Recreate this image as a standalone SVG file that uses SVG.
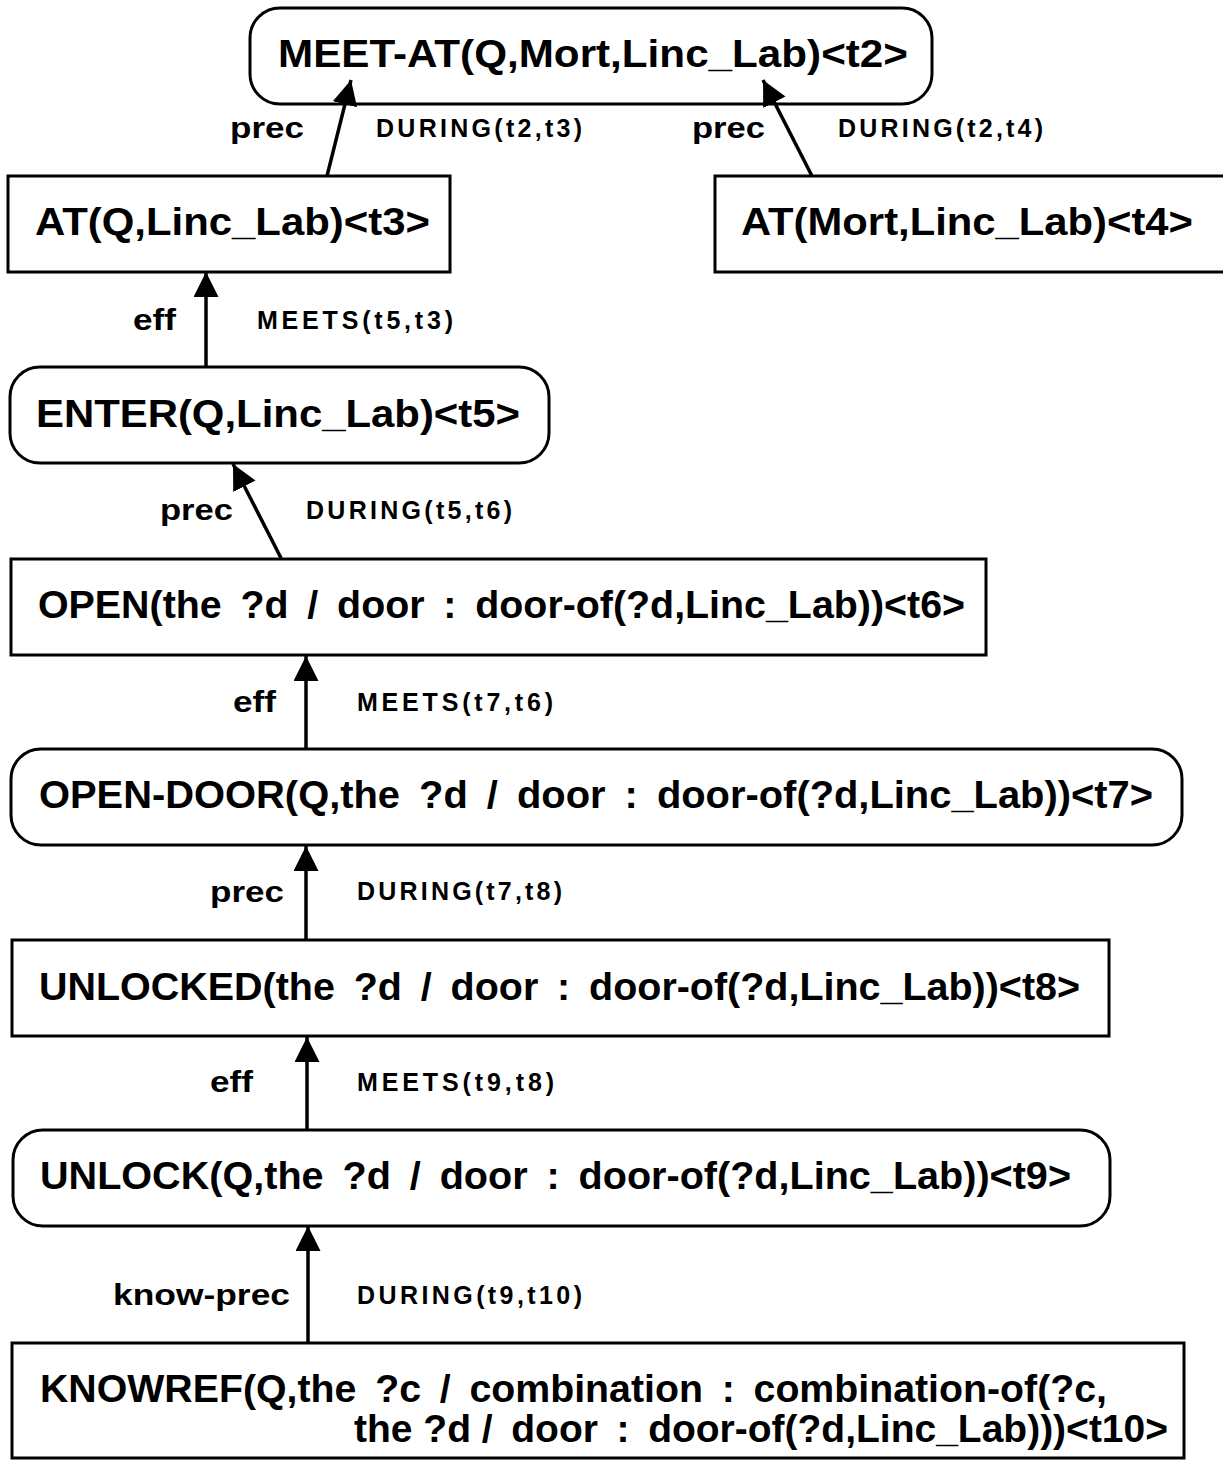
<svg xmlns="http://www.w3.org/2000/svg" width="1223" height="1461" viewBox="0 0 1223 1461">
  <defs>
    <style>
      .box { fill: #fff; stroke: #000; stroke-width: 3; }
      .node { font-family: "Liberation Sans", Arial, Helvetica, sans-serif; font-weight: bold; font-size: 39px; fill: #000; white-space: pre; }
      .rel { font-family: "Liberation Sans", Arial, Helvetica, sans-serif; font-weight: bold; font-size: 30px; fill: #000; }
      .temp { font-family: "Liberation Sans", Arial, Helvetica, sans-serif; font-weight: bold; font-size: 25px; fill: #000; }
      .edge { stroke: #000; stroke-width: 3.5; fill: none; }
    </style>
    <marker id="head" markerUnits="userSpaceOnUse" markerWidth="27" markerHeight="26" refX="25" refY="12.5" orient="auto">
      <path d="M0,0 L25,12.5 L0,25 Z" fill="#000"/>
    </marker>
  </defs>
  <rect width="1223" height="1461" fill="#fff"/>

  <!-- plan nodes: rounded = actions, square = states -->
  <g id="meet-at">
    <rect class="box" x="250" y="8" width="682" height="96" rx="30"/>
    <text class="node" x="278" y="67" textLength="630" lengthAdjust="spacingAndGlyphs">MEET-AT(Q,Mort,Linc_Lab)&lt;t2&gt;</text>
  </g>
  <g id="at-q">
    <rect class="box" x="8" y="176" width="442" height="96"/>
    <text class="node" x="35" y="235" textLength="395" lengthAdjust="spacingAndGlyphs">AT(Q,Linc_Lab)&lt;t3&gt;</text>
  </g>
  <g id="at-mort">
    <rect class="box" x="715" y="176" width="520" height="96"/>
    <text class="node" x="741" y="235" textLength="452" lengthAdjust="spacingAndGlyphs">AT(Mort,Linc_Lab)&lt;t4&gt;</text>
  </g>
  <g id="enter">
    <rect class="box" x="10" y="367" width="539" height="96" rx="30"/>
    <text class="node" x="36" y="427" textLength="484" lengthAdjust="spacingAndGlyphs">ENTER(Q,Linc_Lab)&lt;t5&gt;</text>
  </g>
  <g id="open">
    <rect class="box" x="11" y="559" width="975" height="96"/>
    <text class="node" x="38" y="618" textLength="927" lengthAdjust="spacingAndGlyphs">OPEN(the &#8201;?d &#8201;/ &#8201;door &#8201;: &#8201;door-of(?d,Linc_Lab))&lt;t6&gt;</text>
  </g>
  <g id="open-door">
    <rect class="box" x="11" y="749" width="1171" height="96" rx="30"/>
    <text class="node" x="39" y="808" textLength="1114" lengthAdjust="spacingAndGlyphs">OPEN-DOOR(Q,the &#8201;?d &#8201;/ &#8201;door &#8201;: &#8201;door-of(?d,Linc_Lab))&lt;t7&gt;</text>
  </g>
  <g id="unlocked">
    <rect class="box" x="12" y="940" width="1097" height="96"/>
    <text class="node" x="39" y="1000" textLength="1041" lengthAdjust="spacingAndGlyphs">UNLOCKED(the &#8201;?d &#8201;/ &#8201;door &#8201;: &#8201;door-of(?d,Linc_Lab))&lt;t8&gt;</text>
  </g>
  <g id="unlock">
    <rect class="box" x="13" y="1130" width="1097" height="96" rx="30"/>
    <text class="node" x="40" y="1189" textLength="1031" lengthAdjust="spacingAndGlyphs">UNLOCK(Q,the &#8201;?d &#8201;/ &#8201;door &#8201;: &#8201;door-of(?d,Linc_Lab))&lt;t9&gt;</text>
  </g>
  <g id="knowref">
    <rect class="box" x="12" y="1343" width="1172" height="115"/>
    <text class="node" x="40" y="1402" textLength="1067" lengthAdjust="spacingAndGlyphs">KNOWREF(Q,the &#8201;?c &#8201;/ &#8201;combination &#8201;: &#8201;combination-of(?c,</text>
    <text class="node" x="354" y="1442" textLength="814" lengthAdjust="spacingAndGlyphs">the ?d / &#8201;door &#8201;: &#8201;door-of(?d,Linc_Lab)))&lt;t10&gt;</text>
  </g>

  <!-- links between nodes, with their kind and temporal constraint -->
  <g id="connectors">
    <line class="edge" x1="327" y1="176" x2="351" y2="80" marker-end="url(#head)"/>
    <line class="edge" x1="812" y1="176" x2="763" y2="80" marker-end="url(#head)"/>
    <line class="edge" x1="206" y1="367" x2="206" y2="272" marker-end="url(#head)"/>
    <line class="edge" x1="281" y1="558" x2="233" y2="464" marker-end="url(#head)"/>
    <line class="edge" x1="306" y1="749" x2="306" y2="656" marker-end="url(#head)"/>
    <line class="edge" x1="306" y1="940" x2="306" y2="846" marker-end="url(#head)"/>
    <line class="edge" x1="307" y1="1130" x2="307" y2="1037" marker-end="url(#head)"/>
    <line class="edge" x1="308" y1="1343" x2="308" y2="1226" marker-end="url(#head)"/>

    <text class="rel" x="230" y="138" textLength="74" lengthAdjust="spacingAndGlyphs">prec</text>
    <text class="temp" x="376" y="137" textLength="206" lengthAdjust="spacing">DURING(t2,t3)</text>
    <text class="rel" x="692" y="138" textLength="73" lengthAdjust="spacingAndGlyphs">prec</text>
    <text class="temp" x="838" y="137" textLength="205" lengthAdjust="spacing">DURING(t2,t4)</text>

    <text class="rel" x="133" y="330" textLength="43" lengthAdjust="spacingAndGlyphs">eff</text>
    <text class="temp" x="257" y="329" textLength="196" lengthAdjust="spacing">MEETS(t5,t3)</text>

    <text class="rel" x="160" y="520" textLength="73" lengthAdjust="spacingAndGlyphs">prec</text>
    <text class="temp" x="306" y="519" textLength="206" lengthAdjust="spacing">DURING(t5,t6)</text>

    <text class="rel" x="233" y="712" textLength="43" lengthAdjust="spacingAndGlyphs">eff</text>
    <text class="temp" x="357" y="711" textLength="196" lengthAdjust="spacing">MEETS(t7,t6)</text>

    <text class="rel" x="210" y="902" textLength="74" lengthAdjust="spacingAndGlyphs">prec</text>
    <text class="temp" x="357" y="900" textLength="205" lengthAdjust="spacing">DURING(t7,t8)</text>

    <text class="rel" x="210" y="1092" textLength="43" lengthAdjust="spacingAndGlyphs">eff</text>
    <text class="temp" x="357" y="1091" textLength="197" lengthAdjust="spacing">MEETS(t9,t8)</text>

    <text class="rel" x="113" y="1305" textLength="177" lengthAdjust="spacingAndGlyphs">know-prec</text>
    <text class="temp" x="357" y="1304" textLength="225" lengthAdjust="spacing">DURING(t9,t10)</text>
  </g>
</svg>
